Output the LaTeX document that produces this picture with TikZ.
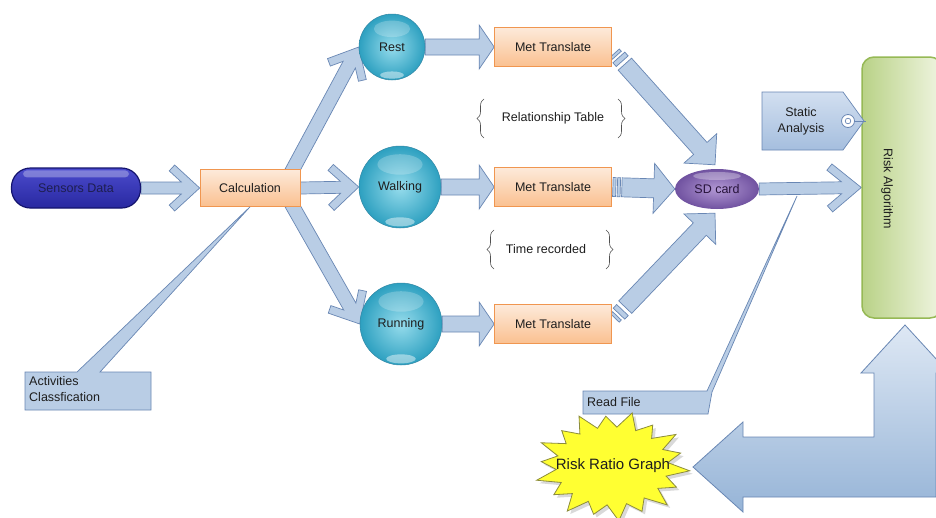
\documentclass[tikz,border=0pt]{standalone}
\usepackage{fontspec}
\setmainfont{Liberation Sans}
\usetikzlibrary{calc,decorations.pathreplacing,shapes.geometric}
\pgfdeclarelayer{back}
\pgfdeclarelayer{bg}
\pgfsetlayers{back,bg,main}

\definecolor{arrfill}{RGB}{185,205,229}
\definecolor{arrline}{RGB}{105,135,180}
\definecolor{orfillT}{RGB}{253,234,218}
\definecolor{orfillB}{RGB}{250,192,144}
\definecolor{orline}{RGB}{240,150,80}
\definecolor{ballin}{RGB}{150,220,236}
\definecolor{ballout}{RGB}{45,160,192}
\definecolor{ballline}{RGB}{50,135,165}
\definecolor{pillT}{RGB}{75,75,205}
\definecolor{pillM}{RGB}{95,95,222}
\definecolor{pillB}{RGB}{40,40,160}
\definecolor{pillline}{RGB}{20,20,110}
\definecolor{pilltxt}{RGB}{30,30,80}
\definecolor{sdin}{RGB}{178,152,212}
\definecolor{sdout}{RGB}{112,82,160}
\definecolor{sdtxt}{RGB}{40,20,60}
\definecolor{grnL}{RGB}{185,210,135}
\definecolor{grnR}{RGB}{240,245,225}
\definecolor{grnline}{RGB}{150,185,85}
\definecolor{tagT}{RGB}{210,223,240}
\definecolor{tagB}{RGB}{165,190,222}
\definecolor{bigT}{RGB}{222,232,244}
\definecolor{bigB}{RGB}{150,180,215}
\definecolor{burst}{RGB}{255,255,50}
\definecolor{burstline}{RGB}{140,140,60}
\definecolor{txt}{RGB}{30,30,30}
\definecolor{bracecol}{RGB}{80,80,80}

\newcommand\alongpath[3]{%
  \path (#1) coordinate (ba-s) (#2) coordinate (ba-e);%
  \pgfpointdiff{\pgfpointanchor{ba-s}{center}}{\pgfpointanchor{ba-e}{center}}%
  \pgfgetlastxy{\badx}{\bady}%
  \pgfmathsetmacro\baang{atan2(\bady,\badx)}%
  \pgfmathsetmacro\balen{veclen(\badx,\bady)}%
  \begin{scope}[shift={(ba-s)},rotate=\baang,x=1pt,y=1pt]#3\end{scope}}

\newcommand\triarrow[6][0]{\alongpath{#2}{#3}{%
  \pgfmathsetmacro\bahx{\balen-#6}%
  \draw[barrow] (#1,#4) -- (\bahx,#4) -- (\bahx,#5) -- (\balen,0) -- (\bahx,-#5) -- (\bahx,-#4) -- (#1,-#4) -- cycle;}}

\newcommand\chevarrow[7][0]{\alongpath{#2}{#3}{%
  \pgfmathsetmacro\ban{veclen(#6,#5)}%
  \pgfmathsetmacro\bacu{#7*#5/\ban}%
  \pgfmathsetmacro\bacv{#7*#6/\ban}%
  \pgfmathsetmacro\baub{\balen-#6-\bacu+(#5-\bacv-#4)/#5*#6}%
  \pgfmathsetmacro\babx{\balen-#6-\bacu}%
  \pgfmathsetmacro\baby{#5-\bacv}%
  \pgfmathsetmacro\bahx{\balen-#6}%
  \draw[barrow] (#1,#4) -- (\baub,#4) -- (\babx,\baby) -- (\bahx,#5) -- (\balen,0) -- (\bahx,-#5) -- (\babx,-\baby) -- (\baub,-#4) -- (#1,-#4) -- cycle;}}

\newcommand\blkseg[5]{\alongpath{#1}{#2}{\draw[barrow] (#3,-#5) rectangle (#4,#5);}}

\tikzset{
  base/.style={font=\fontsize{12.5}{16}\selectfont, text=txt},
  barrow/.style={fill=arrfill, draw=arrline, line width=0.7pt, line join=miter},
  orbox/.style={base, rectangle, minimum width=117pt, minimum height=39pt, top color=orfillT, bottom color=orfillB, draw=orline, line width=0.7pt},
  ball/.style={base, circle, inner sep=0pt, inner color=ballin, outer color=ballout, draw=ballline, line width=0.5pt},
  pill/.style={base, rectangle, rounded corners=19pt, minimum width=129pt, minimum height=40pt, top color=pillT, middle color=pillM, bottom color=pillB, draw=pillline, line width=1.2pt, text=pilltxt},
  callout/.style={fill=arrfill, draw=arrline, line width=0.7pt},
  bracestyle/.style={draw=bracecol, line width=0.6pt, decorate, decoration={brace, amplitude=7pt}},
  hilite/.style={fill=white, opacity=0.4}
}

\begin{document}
\begin{tikzpicture}[x=1pt,y=-1pt]
\useasboundingbox (0,0) rectangle (936,517);
\begin{pgfonlayer}{back}
\fill[white] (0,0) rectangle (936,517);
\end{pgfonlayer}

% ---------- nodes ----------
\node[pill] (sensors) at (76,188) {Sensors Data};
\fill[hilite, opacity=0.3, rounded corners=4pt] ($(sensors.north west)+(12,3)$) rectangle ($(sensors.north east)+(-12,10)$);

\node[orbox, minimum width=100pt, minimum height=37pt] (calc) at (250,188) {Calculation};

\node[ball, minimum size=66pt] (rest) at (392,47) {Rest};
\node[ball, minimum size=82pt] (walk) at (400,187) {Walking};
\node[ball, minimum size=82pt] (run) at (401,324) {Running};
\foreach \b/\r in {rest/33, walk/41, run/41}{
  \fill[white, opacity=0.22] ($(\b)+(0,{-0.55*\r})$) ellipse [x radius={0.55*\r pt}, y radius={0.25*\r pt}];
  \fill[white, opacity=0.45] ($(\b)+(0,{0.85*\r})$) ellipse [x radius={0.36*\r pt}, y radius={0.11*\r pt}];
}

\node[orbox] (met1) at (553,47) {Met Translate};
\node[orbox] (met2) at (553,187) {Met Translate};
\node[orbox] (met3) at (553,324) {Met Translate};

\node[base, ellipse, minimum width=84pt, minimum height=40pt, inner color=sdin, outer color=sdout, text=sdtxt] (sd) at (717,189) {SD card};
\fill[white, opacity=0.3] ($(sd)+(0,-13)$) ellipse [x radius=24pt, y radius=4pt];

\node[rectangle, rounded corners=12pt, minimum width=80pt, minimum height=261pt, left color=grnL, right color=grnR, draw=grnline, line width=1.5pt] (risk) at (902,187.5) {};
\node[base, rotate=-90] (risktxt) at (887,189) {Risk Algorithm};

% static analysis tag
\path[top color=tagT, bottom color=tagB, draw=arrline, line width=0.7pt] (762,92) -- (843,92) -- (864,121) -- (843,150) -- (762,150) -- cycle;
\node[base, align=center] (static) at (801,121) {Static\\Analysis};
\draw[arrline, fill=white, line width=0.8pt] (848,121) circle [radius=6.5pt];
\draw[arrline, line width=0.7pt] (848,121) circle [radius=2.8pt];
\draw[arrline, line width=0.6pt] (854.5,121) -- (866,121);

% brace labels
\node[base] (rel) at (553,118) {Relationship Table};
\draw[bracestyle] (484,138) -- (484,99);
\draw[bracestyle] (618,99) -- (618,138);
\node[base] (tim) at (546,249) {Time recorded};
\draw[bracestyle] (494,269) -- (494,230);
\draw[bracestyle] (606,230) -- (606,269);

% ---------- block arrows (behind) ----------
\coordinate (c1) at ($(calc.north east)+(-9,3)$);
\coordinate (c3) at ($(calc.south east)+(-9,-3)$);
\coordinate (m1o) at ($(met1.east)+(3,6)$);
\coordinate (m3o) at ($(met3.east)+(3,-6)$);
\coordinate (sdtop) at ($(sd.north)+(-2,-4)$);
\coordinate (sdbot) at ($(sd.south)+(-2,4)$);
\begin{pgfonlayer}{bg}
\chevarrow{sensors.east}{calc.west}{6}{23}{25}{8}
\chevarrow{calc.east}{walk.west}{6}{23}{25}{8}
\chevarrow{c1}{rest.west}{7}{22}{25}{8}
\chevarrow{c3}{run.west}{7}{22}{25}{8}
\triarrow{rest.east}{met1.west}{8}{22}{15}
\triarrow{walk.east}{met2.west}{8}{22}{15}
\triarrow{run.east}{met3.west}{8}{22}{15}
% met1 -> sd (broken start)
\blkseg{m1o}{sdtop}{0}{3}{6}
\blkseg{m1o}{sdtop}{6}{11}{8}
\triarrow[15]{m1o}{sdtop}{9}{22}{22}
% met2 -> sd
\blkseg{met2.east}{sd.west}{1}{4}{9.5}
\blkseg{met2.east}{sd.west}{5.5}{8.5}{9.5}
\triarrow[10]{met2.east}{sd.west}{9.5}{25}{21}
% met3 -> sd
\blkseg{m3o}{sdbot}{0}{3}{6}
\blkseg{m3o}{sdbot}{6}{11}{8}
\triarrow[15]{m3o}{sdbot}{9}{22}{22}
% sd -> risk
\chevarrow{sd.east}{risk.west}{6}{24}{29}{8}
% big L arrow from risk algorithm to graph
\path[top color=bigT, bottom color=bigB, draw=arrline, line width=0.8pt]
  (693,467) -- (743,422) -- (743,437) -- (874,437) -- (874,373) -- (861,373) -- (905,325)
  -- (949,373) -- (936,373) -- (936,497) -- (743,497) -- (743,512) -- cycle;
\end{pgfonlayer}

% ---------- callouts ----------
\path[callout] (25,372) -- (77,372) -- (calc.south) -- (100,372) -- (151,372) -- (151,410) -- (25,410) -- cycle;
\node[base, anchor=north west, align=left, inner sep=0pt] (act) at (29,376) {Activities\\Classfication};

\coordinate (rftip) at (797,196);
\path[callout] (583,391) -- (707,391) -- (rftip) -- (712,392) -- (708,414) -- (583,414) -- cycle;
\node[base, anchor=west, inner sep=0pt] (rf) at (587,402.5) {Read File};

% ---------- starburst ----------
\begin{scope}[shift={(3,3)}]
\fill[black, opacity=0.15] plot[samples at={0,...,35}, variable=\k]
  ({612+ifthenelse(mod(\k,2)==0, ifthenelse(mod(\k,4)==0,78,71), 56)*cos(\k*10+5)},
   {466+ifthenelse(mod(\k,2)==0, ifthenelse(mod(\k,4)==0,55,50), 39)*sin(\k*10+5)}) -- cycle;
\end{scope}
\draw[fill=burst, draw=burstline, line width=0.8pt] plot[samples at={0,...,35}, variable=\k]
  ({612+ifthenelse(mod(\k,2)==0, ifthenelse(mod(\k,4)==0,78,71), 56)*cos(\k*10+5)},
   {466+ifthenelse(mod(\k,2)==0, ifthenelse(mod(\k,4)==0,55,50), 39)*sin(\k*10+5)}) -- cycle;
\node[base, font=\fontsize{15}{18}\selectfont] (rrg) at (613,466) {Risk Ratio Graph};
\end{tikzpicture}
\end{document}
